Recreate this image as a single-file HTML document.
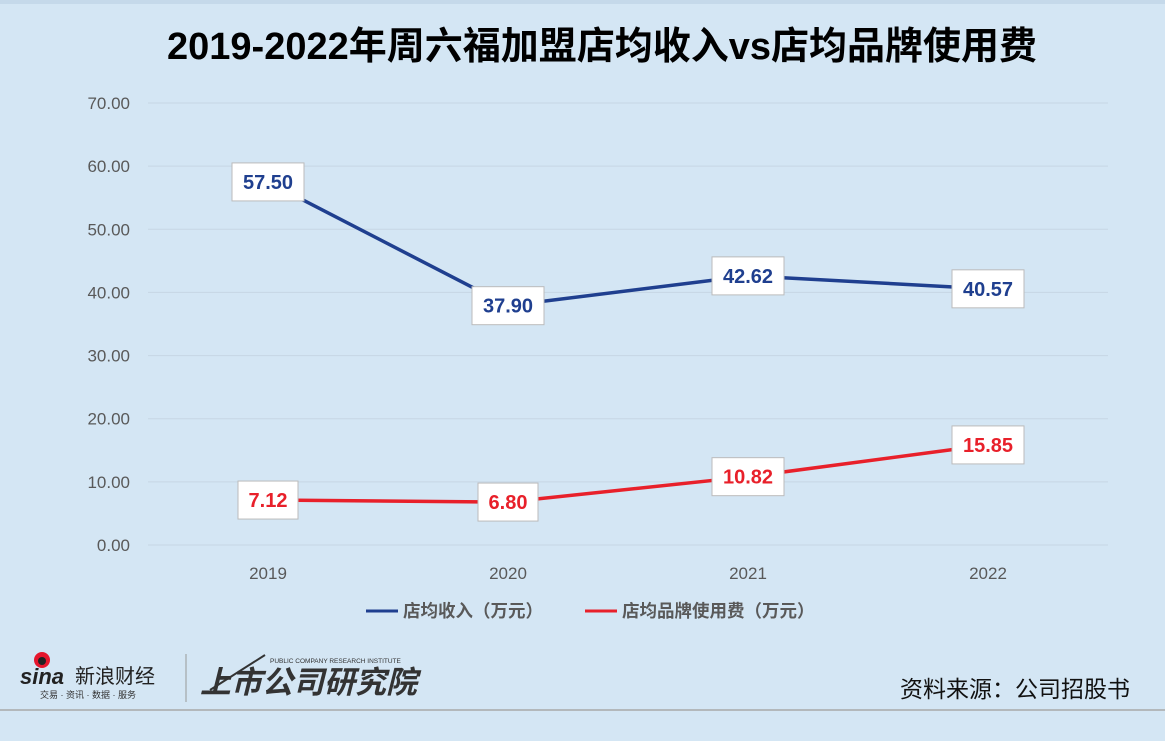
<!DOCTYPE html>
<html><head><meta charset="utf-8">
<style>
body{margin:0;background:#d4e6f4;}
#wrap{position:relative;width:1165px;height:741px;background:#d4e6f4;overflow:hidden;font-family:"Liberation Sans","Noto Sans CJK SC",sans-serif;}
</style></head>
<body>
<div id="wrap">
<svg id="chart" width="1165" height="741">
  <rect x="0" y="0" width="1165" height="4" fill="#c5d9ea"/>
  <text x="602" y="59" text-anchor="middle" font-size="38" font-weight="bold" fill="#000" font-family="Liberation Sans, Noto Sans CJK SC, sans-serif">2019-2022年周六福加盟店均收入vs店均品牌使用费</text>
  <g id="grid"></g>
  <g id="lines"></g>
  <g id="labels"></g>
  <g>
    <line x1="366" y1="611" x2="398" y2="611" stroke="#1f3f8f" stroke-width="3"/>
    <text x="403" y="617" font-size="17.5" font-weight="bold" fill="#595959">店均收入（万元）</text>
    <line x1="585" y1="611" x2="617" y2="611" stroke="#e8202a" stroke-width="3"/>
    <text x="622" y="617" font-size="17.5" font-weight="bold" fill="#595959">店均品牌使用费（万元）</text>
  </g>
  <g>
    <circle cx="42" cy="660" r="8" fill="#e6162d"/>
    <circle cx="42" cy="661" r="4" fill="#222"/>
    <text x="20" y="684" font-size="22" font-weight="bold" font-style="italic" fill="#222">sina</text>
    <text x="75" y="683" font-size="20" fill="#222">新浪财经</text>
    <text x="40" y="698" font-size="9" fill="#333">交易 · 资讯 · 数据 · 服务</text>
  </g>
  <line x1="186" y1="654" x2="186" y2="702" stroke="#999" stroke-width="1"/>
  <g>
    <text x="270" y="663" font-size="6.5" fill="#333">PUBLIC COMPANY RESEARCH INSTITUTE</text>
    <line x1="210" y1="690" x2="265" y2="655" stroke="#333" stroke-width="2"/>
    <text x="200" y="693" font-size="31" font-weight="bold" font-style="italic" fill="#333">上市公司研究院</text>
  </g>
  <text x="1130" y="697" text-anchor="end" font-size="23" fill="#111">资料来源：公司招股书</text>
  <line x1="0" y1="710" x2="1165" y2="710" stroke="#a8a8a8" stroke-width="1.5"/>
</svg>
</div>
<script>
const categories = ["2019","2020","2021","2022"];
const incomeValues = [57.50, 37.90, 42.62, 40.57];
const feeValues = [7.12, 6.80, 10.82, 15.85];
const yTicks = [0,10,20,30,40,50,60,70];
const NS="http://www.w3.org/2000/svg";
const plotLeft=148, plotRight=1108, y0=545, y70=103;
function xScale(i){const w=(plotRight-plotLeft)/categories.length;return plotLeft+w*(i+0.5);}
function yScale(v){return y0-(v/70)*(y0-y70);}
function mk(tag,attrs,parent){const e=document.createElementNS(NS,tag);for(const k in attrs)e.setAttribute(k,attrs[k]);parent.appendChild(e);return e;}
const grid=document.getElementById('grid');
yTicks.forEach(t=>{
  const l=mk('line',{x1:plotLeft,x2:plotRight,y1:yScale(t),y2:yScale(t),stroke:'#c6d6e4','stroke-width':1},grid);
  
  
  const tx=mk('text',{x:130,y:yScale(t)+6,'text-anchor':'end','font-size':17,fill:'#595959'},grid);
  tx.textContent=t.toFixed(2);
  
  
});
categories.forEach((c,i)=>{
  const tx=mk('text',{x:xScale(i),y:579,'text-anchor':'middle','font-size':17,fill:'#595959'},grid);
  tx.textContent=c;
  
  
});
const lines=document.getElementById('lines'), labels=document.getElementById('labels');
function series(vals,color,name){
  const pts=vals.map((v,i)=>xScale(i)+','+yScale(v)).join(' ');
  const pl=mk('polyline',{points:pts,fill:'none',stroke:color,'stroke-width':3.5,'stroke-linejoin':'round'},lines);
  
  
  vals.forEach((v,i)=>{
    const s=v.toFixed(2), w=s.length*12+12;
    const cx=xScale(i), cy=yScale(v);
    const r=mk('rect',{x:cx-w/2,y:cy-19,width:w,height:38,fill:'#fff',stroke:'#bbb','stroke-width':1},labels);
    
    
    const t=mk('text',{x:cx,y:cy+7,'text-anchor':'middle','font-size':20,'font-weight':'bold',fill:color},labels);
    t.textContent=s;
    
    
  });
}
series(incomeValues,'#1f3f8f','income');
series(feeValues,'#e8202a','fee');
</script>
</body></html>
